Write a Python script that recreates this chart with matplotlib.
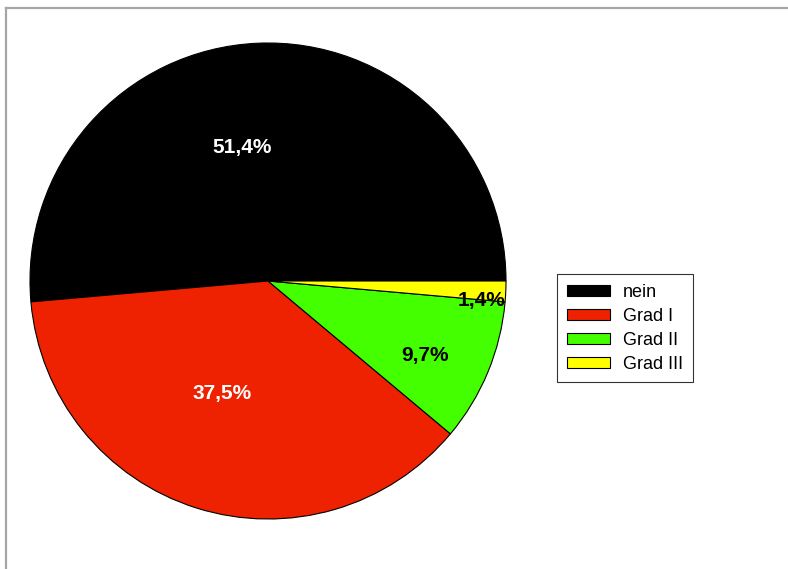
import matplotlib
matplotlib.use("Agg")
import matplotlib.pyplot as plt
from matplotlib.lines import Line2D
import numpy as np

categories = ["nein", "Grad I", "Grad II", "Grad III"]
values = [51.4, 37.5, 9.7, 1.4]
labels = ["51,4%", "37,5%", "9,7%", "1,4%"]
colors = ["#000000", "#ee2200", "#44ff00", "#ffff00"]
label_colors = ["white", "white", "black", "black"]
label_dist = [0.57, 0.51, 0.73, 0.90]
label_angle_shift = [8.5, -4.8, -3.0, -2.8]

plt.rcParams['font.family'] = ['Liberation Sans', 'DejaVu Sans']

W, H = 788, 569
fig = plt.figure(figsize=(W / 100, H / 100), dpi=100)
cx, cy, r = 268, 281, 238
ax = fig.add_axes([(cx - r) / W, (H - cy - r) / H, 2 * r / W, 2 * r / H])

wedges, _ = ax.pie(values, colors=colors, startangle=0, counterclock=True,
                   radius=1.0, wedgeprops=dict(edgecolor="black", linewidth=0.8))
ax.set_xlim(-1, 1)
ax.set_ylim(-1, 1)
ax.set_axis_off()

for w, lab, c, d, s in zip(wedges, labels, label_colors, label_dist, label_angle_shift):
    ang = np.deg2rad((w.theta1 + w.theta2) / 2 + s)
    ax.text(d * np.cos(ang), d * np.sin(ang), lab, color=c, fontsize=15,
            fontweight="bold", ha="center", va="center")

# gray frame lines
fig.add_artist(Line2D([6 / W, 1], [1 - 8 / H, 1 - 8 / H], transform=fig.transFigure,
                      color="#a6a6a6", linewidth=1.6))
fig.add_artist(Line2D([6 / W, 6 / W], [0, 1 - 8 / H], transform=fig.transFigure,
                      color="#a6a6a6", linewidth=1.6))

leg = fig.legend(wedges, categories, loc="upper left",
                 bbox_to_anchor=(557 / W, 1 - 274 / H), fontsize=13,
                 frameon=True, fancybox=False, edgecolor="black",
                 handlelength=2.4, handleheight=0.55, labelspacing=0.38,
                 handletextpad=0.7, borderpad=0.55, borderaxespad=0)
leg.get_frame().set_linewidth(0.8)

fig.savefig("out.png", dpi=100, facecolor="white")
